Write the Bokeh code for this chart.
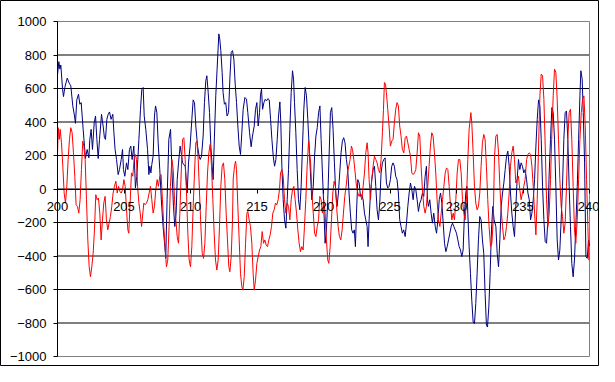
from bokeh.plotting import figure
from bokeh.models import FixedTicker, Range1d
from bokeh.embed import file_html
from bokeh.resources import INLINE

# ---- data ----
x_ticks = [200, 205, 210, 215, 220, 225, 230, 235, 240]
y_ticks = [-1000, -800, -600, -400, -200, 0, 200, 400, 600, 800, 1000]
grid_values = [-800, -600, -400, -200, 0, 200, 400, 600, 800]

blue_x = [
    200.0, 200.1, 200.18, 200.25, 200.38, 200.45, 200.55, 200.73, 200.88, 201.0,
    201.15, 201.28, 201.35, 201.45, 201.58, 201.68, 201.78, 201.93, 202.03, 202.1,
    202.23, 202.36, 202.43, 202.53, 202.63, 202.76, 202.86, 202.96, 203.06, 203.16,
    203.31, 203.43, 203.53, 203.61, 203.71, 203.81, 203.91, 204.03, 204.16, 204.24,
    204.33, 204.44, 204.56, 204.66, 204.79, 204.89, 204.96, 205.06, 205.19, 205.29,
    205.41, 205.51, 205.61, 205.74, 205.86, 205.96, 206.04, 206.12, 206.24, 206.34,
    206.44, 206.52, 206.64, 206.77, 206.87, 206.94, 207.02, 207.09, 207.19, 207.29,
    207.37, 207.47, 207.57, 207.69, 207.82, 207.94, 208.07, 208.14, 208.24, 208.37,
    208.5, 208.6, 208.72, 208.82, 208.92, 209.0, 209.1, 209.22, 209.32, 209.4,
    209.6, 209.75, 209.85, 209.97, 210.1, 210.2, 210.3, 210.4, 210.53, 210.65,
    210.73, 210.83, 210.95, 211.05, 211.15, 211.23, 211.33, 211.43, 211.53, 211.63,
    211.7, 211.8, 211.9, 212.0, 212.13, 212.2, 212.28, 212.38, 212.45, 212.55,
    212.65, 212.75, 212.86, 212.96, 213.06, 213.16, 213.26, 213.36, 213.46, 213.56,
    213.66, 213.76, 213.86, 213.96, 214.09, 214.21, 214.31, 214.44, 214.56, 214.66,
    214.79, 214.89, 214.99, 215.09, 215.19, 215.27, 215.34, 215.42, 215.52, 215.62,
    215.72, 215.82, 215.92, 216.02, 216.12, 216.22, 216.32, 216.42, 216.52, 216.62,
    216.72, 216.79, 216.87, 216.97, 217.07, 217.17, 217.27, 217.37, 217.47, 217.57,
    217.67, 217.75, 217.82, 217.92, 218.02, 218.12, 218.22, 218.32, 218.42, 218.52,
    218.62, 218.72, 218.82, 218.92, 219.02, 219.12, 219.23, 219.33, 219.43, 219.53,
    219.63, 219.73, 219.82, 219.92, 220.02, 220.12, 220.22, 220.32, 220.42, 220.52,
    220.62, 220.72, 220.82, 220.92, 221.02, 221.12, 221.22, 221.32, 221.42, 221.52,
    221.62, 221.72, 221.82, 221.92, 222.02, 222.12, 222.22, 222.32, 222.4, 222.48,
    222.58, 222.68, 222.78, 222.88, 222.98, 223.08, 223.18, 223.28, 223.35, 223.43,
    223.53, 223.63, 223.73, 223.83, 223.93, 224.03, 224.13, 224.23, 224.33, 224.43,
    224.53, 224.63, 224.73, 224.83, 224.93, 225.03, 225.13, 225.23, 225.33, 225.43,
    225.53, 225.63, 225.73, 225.83, 225.93, 226.03, 226.14, 226.24, 226.34, 226.44,
    226.54, 226.64, 226.74, 226.84, 226.94, 227.04, 227.14, 227.24, 227.34, 227.44,
    227.54, 227.64, 227.74, 227.82, 227.89, 227.99, 228.09, 228.19, 228.29, 228.4,
    228.5, 228.6, 228.7, 228.8, 228.9, 229.0, 229.1, 229.2, 229.3, 229.4,
    229.5, 229.6, 229.7, 229.8, 229.9, 230.0, 230.1, 230.2, 230.3, 230.4,
    230.5, 230.6, 230.7, 230.78, 230.85, 230.95, 231.05, 231.15, 231.25, 231.35,
    231.45, 231.55, 231.65, 231.75, 231.85, 231.95, 232.05, 232.15, 232.25, 232.33,
    232.43, 232.53, 232.63, 232.73, 232.83, 232.96, 233.06, 233.16, 233.26, 233.36,
    233.46, 233.56, 233.66, 233.76, 233.86, 233.96, 234.06, 234.16, 234.26, 234.36,
    234.46, 234.56, 234.66, 234.76, 234.86, 234.96, 235.06, 235.16, 235.27, 235.37,
    235.47, 235.57, 235.67, 235.77, 235.87, 235.97, 236.07, 236.17, 236.27, 236.37,
    236.47, 236.57, 236.67, 236.77, 236.87, 236.97, 237.07, 237.17, 237.27, 237.37,
    237.47, 237.57, 237.67, 237.77, 237.87, 237.97, 238.07, 238.17, 238.27, 238.37,
    238.47, 238.57, 238.67, 238.77, 238.87, 238.97, 239.08, 239.18, 239.28, 239.35,
    239.45, 239.53, 239.63, 239.73, 239.83, 239.93, 240.0,
]
blue_y = [
    680, 760, 716, 740, 596, 552, 606, 662, 632, 616,
    496, 436, 392, 532, 566, 506, 516, 356, 256, 182,
    236, 186, 296, 356, 236, 396, 436, 296, 182, 296,
    446, 376, 306, 296, 416, 446, 460, 416, 446, 336,
    236, 176, 86, 116, 176, 236, 116, 76, 156, 116,
    236, 256, 176, 256, 6, 76, 176, 296, 476, 596,
    606, 436, 356, 236, 86, 136, 96, 146, 196, 436,
    496, 456, 276, 116, -84, -224, -344, -414, -64, 296,
    356, 116, -104, -224, -144, 56, 156, 256, 206, 156,
    136, -24, 156, 256, 416, 532, 516, 376, 256, 196,
    176, 196, 316, 516, 646, 676, 576, 456, 256, 136,
    56, 316, 556, 716, 926, 896, 826, 696, 576, 506,
    516, 436, 456, 656, 816, 826, 776, 626, 516, 376,
    256, 206, 336, 476, 546, 536, 456, 336, 252, 316,
    376, 476, 516, 376, 456, 566, 596, 476, 516, 536,
    526, 540, 532, 416, 296, 196, 136, 176, 296, 436,
    520, 396, 136, -64, -184, -234, -64, 116, 356, 576,
    706, 656, 516, 336, 116, -64, -124, 16, 256, 476,
    606, 556, 416, 256, 96, -64, 16, 196, 316, 366,
    456, 496, 296, 96, -104, -324, -244, -64, 196, 456,
    486, 356, 156, -24, -104, -24, 96, 216, 286, 306,
    276, 176, 116, -24, -144, -244, -264, -244, -344, -144,
    56, 36, -44, -34, -64, -144, -184, -224, -344, -184,
    -24, 56, 116, 136, 16, -124, -184, -84, 96, 156,
    176, 186, 36, 6, 16, 56, 136, 156, 136, 76,
    56, -24, -184, -224, -264, -244, -284, -204, -104, -24,
    36, -4, -64, 16, -4, -64, -134, -84, -64, -24,
    -44, 76, 136, -64, -104, -64, -144, -204, -144, -224,
    -264, -184, -64, -24, -84, -204, -324, -374, -344, -304,
    -264, -224, -204, -224, -244, -264, -304, -344, -364, -404,
    -364, -144, -24, 16, -144, -344, -504, -664, -794, -804,
    -684, -504, -304, -164, -184, -304, -384, -624, -814, -824,
    -704, -504, -244, -104, -184, -224, -384, -464, -304, -104,
    -24, 36, 116, 196, 226, 136, -24, -144, -224, -284,
    -104, 56, 176, 116, 156, 136, 96, 116, 56, -24,
    -64, -184, -144, -64, 56, 256, 416, 532, 496, 296,
    16, -184, -314, -324, -184, 96, 296, 486, 456, 296,
    16, -304, -424, -364, -184, 16, 296, 456, 466, 296,
    16, -224, -444, -524, -424, -224, 16, 296, 556, 706,
    656, 456, 156, -404, -414, -304, -340,
]

red_x = [
    200.0, 200.05, 200.13, 200.2, 200.3, 200.4, 200.5, 200.6, 200.7, 200.8,
    200.9, 201.0, 201.1, 201.2, 201.3, 201.4, 201.5, 201.6, 201.7, 201.8,
    201.9, 201.98, 202.08, 202.18, 202.28, 202.38, 202.48, 202.58, 202.68, 202.78,
    202.88, 202.98, 203.08, 203.18, 203.28, 203.38, 203.48, 203.58, 203.68, 203.78,
    203.88, 203.98, 204.08, 204.18, 204.28, 204.39, 204.49, 204.59, 204.69, 204.79,
    204.89, 204.99, 205.09, 205.19, 205.29, 205.36, 205.46, 205.56, 205.66, 205.76,
    205.86, 205.94, 206.02, 206.12, 206.22, 206.32, 206.49, 206.59, 206.69, 206.79,
    206.89, 206.99, 207.09, 207.19, 207.29, 207.39, 207.49, 207.59, 207.69, 207.79,
    207.89, 207.99, 208.09, 208.19, 208.29, 208.39, 208.49, 208.6, 208.7, 208.8,
    208.9, 209.0, 209.1, 209.2, 209.3, 209.4, 209.5, 209.6, 209.7, 209.8,
    209.9, 210.0, 210.1, 210.2, 210.3, 210.4, 210.48, 210.58, 210.68, 210.78,
    210.88, 210.98, 211.08, 211.18, 211.28, 211.38, 211.48, 211.58, 211.68, 211.78,
    211.88, 211.98, 212.08, 212.18, 212.28, 212.38, 212.48, 212.58, 212.68, 212.78,
    212.88, 212.96, 213.06, 213.16, 213.21, 213.31, 213.39, 213.46, 213.56, 213.66,
    213.76, 213.86, 213.94, 214.04, 214.14, 214.24, 214.31, 214.41, 214.51, 214.61,
    214.71, 214.79, 214.89, 214.99, 215.09, 215.19, 215.29, 215.39, 215.49, 215.59,
    215.69, 215.79, 215.89, 215.99, 216.09, 216.19, 216.29, 216.39, 216.49, 216.59,
    216.69, 216.77, 216.87, 216.97, 217.07, 217.17, 217.27, 217.37, 217.47, 217.57,
    217.67, 217.77, 217.87, 217.97, 218.07, 218.17, 218.27, 218.37, 218.47, 218.57,
    218.67, 218.77, 218.88, 218.95, 219.03, 219.13, 219.23, 219.33, 219.43, 219.53,
    219.63, 219.72, 219.82, 219.92, 220.02, 220.12, 220.22, 220.32, 220.4, 220.5,
    220.6, 220.7, 220.8, 220.9, 221.0, 221.1, 221.2, 221.3, 221.4, 221.5,
    221.6, 221.7, 221.8, 221.9, 222.0, 222.1, 222.18, 222.28, 222.38, 222.48,
    222.58, 222.68, 222.78, 222.88, 222.98, 223.08, 223.18, 223.28, 223.35, 223.43,
    223.53, 223.63, 223.73, 223.83, 223.93, 224.03, 224.13, 224.23, 224.33, 224.43,
    224.51, 224.58, 224.66, 224.73, 224.83, 224.93, 225.03, 225.13, 225.23, 225.33,
    225.43, 225.53, 225.63, 225.73, 225.83, 225.93, 226.04, 226.14, 226.24, 226.34,
    226.44, 226.54, 226.64, 226.74, 226.84, 226.94, 227.04, 227.14, 227.24, 227.34,
    227.44, 227.54, 227.64, 227.74, 227.84, 227.94, 228.04, 228.14, 228.24, 228.34,
    228.44, 228.54, 228.64, 228.75, 228.85, 228.95, 229.05, 229.15, 229.25, 229.35,
    229.45, 229.55, 229.65, 229.75, 229.85, 229.95, 230.05, 230.15, 230.25, 230.35,
    230.45, 230.55, 230.65, 230.75, 230.85, 230.95, 231.08, 231.15, 231.25, 231.35,
    231.45, 231.55, 231.65, 231.75, 231.85, 231.95, 232.05, 232.15, 232.25, 232.35,
    232.45, 232.56, 232.66, 232.76, 232.86, 232.96, 233.06, 233.16, 233.26, 233.36,
    233.46, 233.56, 233.66, 233.76, 233.86, 233.96, 234.06, 234.16, 234.26, 234.36,
    234.46, 234.56, 234.66, 234.76, 234.86, 234.96, 235.06, 235.16, 235.27, 235.37,
    235.47, 235.57, 235.67, 235.77, 235.87, 235.97, 236.07, 236.17, 236.27, 236.37,
    236.47, 236.57, 236.67, 236.77, 236.87, 236.97, 237.07, 237.17, 237.27, 237.37,
    237.47, 237.57, 237.67, 237.77, 237.87, 237.97, 238.07, 238.17, 238.27, 238.37,
    238.47, 238.57, 238.67, 238.77, 238.87, 238.97, 239.08, 239.18, 239.28, 239.38,
    239.48, 239.58, 239.68, 239.78, 239.88, 239.95, 240.0,
]
red_y = [
    196, 366, 296, 356, 276, 136, -24, -84, 16, 176,
    296, 366, 336, 216, 76, -94, -104, -144, -64, 116,
    286, 256, 176, -64, -304, -464, -524, -464, -384, -244,
    -34, -64, -54, -144, -304, -184, -84, -44, -184, -244,
    -204, -164, -104, -24, 16, 46, -24, 16, -14, -24,
    -4, 56, 16, -124, -244, -264, -84, 96, 76, 176,
    206, 176, 16, -84, -144, -224, -84, -94, -84, -64,
    -24, 16, -64, -144, -104, -4, 56, 16, 76, 86,
    -64, -224, -344, -464, -424, -224, 16, 176, 116, -64,
    -184, -284, -324, -144, 96, 296, 306, 176, -24, -264,
    -424, -464, -344, -104, 96, 276, 286, 176, -24, -224,
    -384, -414, -324, -104, 96, 216, 266, 136, -64, -264,
    -424, -484, -424, -224, 16, 136, 156, 56, -144, -304,
    -464, -494, -404, -184, 60, 136, 166, 116, -104, -304,
    -504, -584, -604, -524, -324, -144, -134, -184, -224, -324,
    -504, -604, -544, -444, -404, -364, -344, -254, -324, -304,
    -334, -344, -304, -274, -224, -144, -124, -84, -94, -64,
    -4, 96, 116, 76, -64, -144, -84, -104, -184, -64,
    -4, 16, -64, -144, -244, -324, -374, -344, -364, -224,
    -64, 136, 286, 216, 156, -24, -144, -264, -284, -224,
    -184, -44, -64, -144, -64, -144, -304, -424, -444, -344,
    -184, -24, 46, 16, -124, -224, -284, -304, -244, -144,
    -44, 16, 96, 136, 176, 256, 236, 176, 96, 16,
    -24, -44, -24, -64, 16, 96, 216, 276, 216, 56,
    -64, 56, 136, 196, 176, 156, 116, 96, 176, 336,
    476, 636, 626, 576, 476, 376, 256, 286, 296, 396,
    476, 516, 496, 376, 316, 236, 216, 306, 316, 276,
    236, 196, 96, 86, 96, 116, 216, 336, 316, 136,
    -4, -104, -144, -104, 16, 136, 256, 336, 316, 216,
    96, -64, -184, -224, -144, -64, 16, 96, 126, 116,
    16, -104, -184, -144, -184, -64, 96, 176, 176, 96,
    -64, -144, -184, -64, 176, 356, 456, 396, 216, 16,
    -84, -124, -104, -24, 136, 276, 326, 296, 136, -64,
    -224, -344, -324, -184, 196, 316, 326, 216, 16, -124,
    -224, -304, -284, -224, -144, -24, 136, 216, 256, 176,
    36, 56, 76, -4, -64, -24, 16, 56, 176, 206,
    216, 206, 136, 16, -144, -274, -64, 256, 556, 686,
    676, 536, 256, -64, -224, -144, 56, 336, 556, 716,
    696, 536, 296, 56, -104, -164, -264, -204, 16, 296,
    456, 476, 296, 16, -244, -324, -184, 56, 296, 456,
    536, 556, 376, 56, -224, -424, -420,
]

FONT = "Liberation Sans"

# ---- layout: the frame fills the whole canvas, the plot area sits inside ----
W, H = 599, 366                      # canvas size
PA_LEFT, PA_RIGHT = 57, 10           # plot-area margins inside canvas (px)
PA_TOP, PA_BOTTOM = 21, 10
X0, X1 = x_ticks[0], x_ticks[-1]
Y0, Y1 = y_ticks[0], y_ticks[-1]
xs = (X1 - X0) / (W - PA_LEFT - PA_RIGHT)     # data units per pixel
ys = (Y1 - Y0) / (H - PA_TOP - PA_BOTTOM)

p = figure(
    frame_width=W, frame_height=H,
    min_border=0,
    x_range=Range1d(X0 - PA_LEFT * xs, X1 + PA_RIGHT * xs),
    y_range=Range1d(Y0 - PA_BOTTOM * ys, Y1 + PA_TOP * ys),
    output_backend="svg", toolbar_location=None,
    background_fill_color="white", border_fill_color="white",
)
p.outline_line_color = "black"      # chart-area border
p.outline_line_width = 1
p.xgrid.visible = False
p.ygrid.visible = False

# horizontal gridlines and plot-area border
n = len(grid_values)
p.segment(x0=[X0] * n, y0=grid_values, x1=[X1] * n, y1=grid_values,
          line_color="black", line_width=1)
p.quad(left=[X0], right=[X1], bottom=[Y0], top=[Y1],
       fill_color=None, line_color="#808080", line_width=1)

# series
p.line(blue_x, blue_y, line_color="#000080", line_width=1)
p.line(red_x, red_y, line_color="#FF0000", line_width=1)

# axes
for ax in (p.xaxis[0], p.yaxis[0]):
    ax.axis_line_color = "black"
    ax.axis_line_width = 1
    ax.major_tick_line_color = "black"
    ax.major_tick_out = 4
    ax.major_tick_in = 0
    ax.minor_tick_line_color = None
    ax.major_label_text_font = FONT
    ax.major_label_text_font_size = "13px"
    ax.major_label_text_color = "black"
    ax.major_label_text_font_style = "normal"

p.xaxis[0].ticker = FixedTicker(ticks=x_ticks)
p.xaxis[0].fixed_location = 0
p.xaxis[0].bounds = (X0, X1)
p.xaxis[0].major_label_standoff = 9

p.yaxis[0].ticker = FixedTicker(ticks=y_ticks)
p.yaxis[0].fixed_location = X0
p.yaxis[0].bounds = (Y0, Y1)
p.yaxis[0].major_label_standoff = 7

open("out.html", "w").write(file_html(p, INLINE))
